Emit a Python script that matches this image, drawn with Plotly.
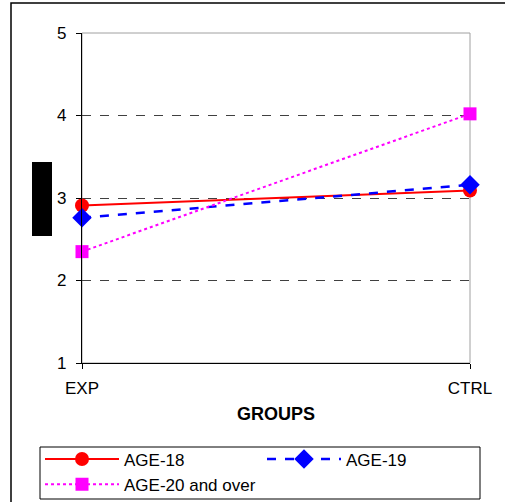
import plotly.graph_objects as go

groups = ["EXP", "CTRL"]
age18 = [2.91, 3.09]
age19 = [2.76, 3.16]
age20 = [2.35, 4.02]
y_ticks = [1, 2, 3, 4, 5]

W, H = 505, 502
L, R, T, B = 82, 35, 33, 139
pw, ph = W - L - R, H - T - B

def px(x):
    return (x - L) / pw

def py(y):
    return (H - B - y) / ph

FONT = "Liberation Sans, Arial, sans-serif"
FS = 17

fig = go.Figure()
fig.add_trace(go.Scatter(x=groups, y=age18, name="AGE-18", mode="lines+markers",
                         line=dict(color="#ff0000", width=2), cliponaxis=False,
                         marker=dict(symbol="circle", size=14, color="#ff0000")))
fig.add_trace(go.Scatter(x=groups, y=age19, name="AGE-19", mode="lines+markers",
                         line=dict(color="#0000ff", width=2.5, dash="dash"), cliponaxis=False,
                         marker=dict(symbol="diamond", size=15, color="#0000ff")))
fig.add_trace(go.Scatter(x=groups, y=age20, name="AGE-20 and over", mode="lines+markers",
                         line=dict(color="#ff00ff", width=2, dash="dot"), cliponaxis=False,
                         marker=dict(symbol="square", size=13, color="#ff00ff")))

shapes = [
    # outer chart border
    dict(type="rect", xref="paper", yref="paper", x0=px(11), x1=px(520), y0=py(520), y1=py(3),
         line=dict(color="black", width=1.5), layer="below"),
    # plot area frame (grey)
    dict(type="rect", xref="paper", yref="paper", x0=0, x1=1, y0=0, y1=1,
         line=dict(color="#a0a0a0", width=1), layer="below"),
    # legend frame
    dict(type="rect", xref="paper", yref="paper", x0=px(40), x1=px(480), y0=py(499), y1=py(447),
         line=dict(color="black", width=1), fillcolor="white", layer="below"),
    # redaction box
    dict(type="rect", xref="paper", yref="paper", x0=px(32), x1=px(52), y0=py(236), y1=py(162),
         fillcolor="black", line=dict(width=0)),
]

fig.update_layout(
    width=W, height=H,
    margin=dict(l=L, r=R, t=T, b=B, autoexpand=False),
    paper_bgcolor="white", plot_bgcolor="white",
    font=dict(family=FONT, size=FS, color="black"),
    shapes=shapes,
    showlegend=True,
    legend=dict(orientation="h", x=px(40), xanchor="left", y=py(441.5), yanchor="top",
                entrywidth=133, entrywidthmode="pixels", itemwidth=74,
                borderwidth=0, bgcolor="rgba(0,0,0,0)",
                font=dict(family=FONT, size=FS), traceorder="normal", tracegroupgap=0),
    xaxis=dict(type="category", range=[0, 1], showgrid=False, zeroline=False,
               showline=True, linecolor="black", linewidth=1.2,
               ticks="outside", ticklen=5, tickcolor="black",
               ticklabelstandoff=4,
               title=dict(text="<b>GROUPS</b>", standoff=10, font=dict(size=18))),
    yaxis=dict(range=[1, 5], tickvals=y_ticks, showgrid=True, gridcolor="#404040",
               griddash="dash", gridwidth=1, zeroline=False,
               showline=True, linecolor="black", linewidth=1.2,
               ticks="outside", ticklen=5, tickcolor="black",
               ticklabelstandoff=6, tickfont=dict(size=FS)),
)

fig.write_html("out.html")
